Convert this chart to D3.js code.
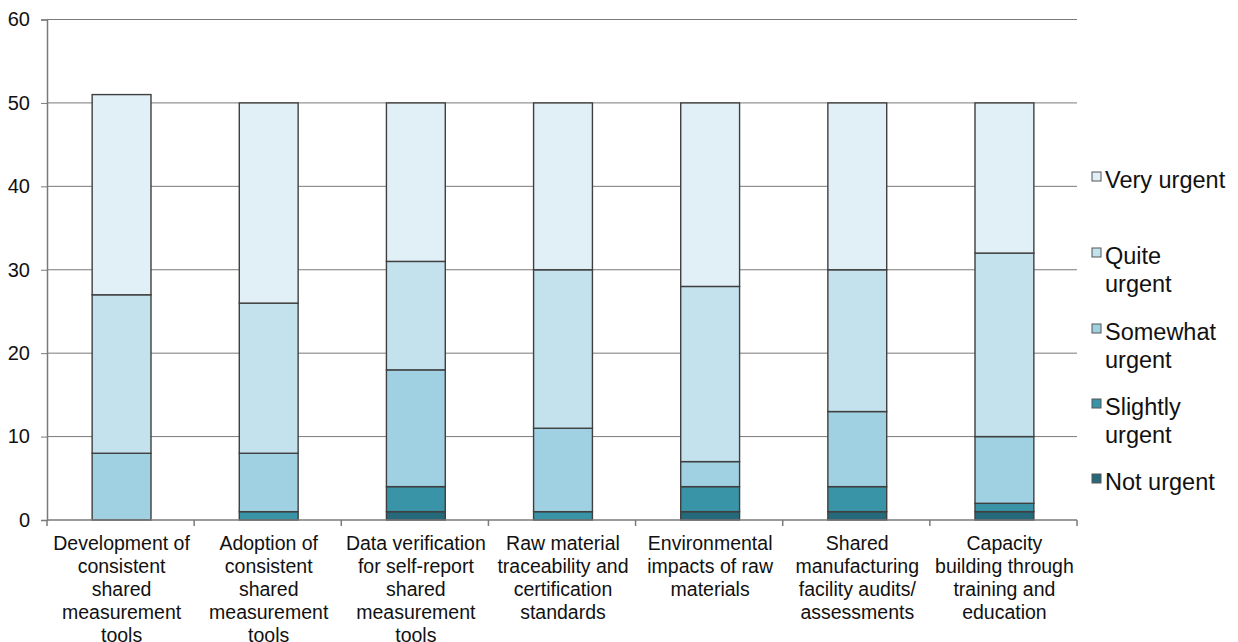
<!DOCTYPE html>
<html>
<head>
<meta charset="utf-8">
<script src="https://cdn.jsdelivr.net/npm/d3@7"></script>
<style>
  html, body { margin: 0; padding: 0; background: #fff; }
  svg { display: block; font-family: "Liberation Sans", Arial, Helvetica, sans-serif; }
</style>
</head>
<body>
<svg id="chart" width="1238" height="642"></svg>
<script>
// Survey responses: how urgent each collaboration area is
const categories = [
  ["Development of", "consistent", "shared", "measurement", "tools"],
  ["Adoption of", "consistent", "shared", "measurement", "tools"],
  ["Data verification", "for self-report", "shared", "measurement", "tools"],
  ["Raw material", "traceability and", "certification", "standards"],
  ["Environmental", "impacts of raw", "materials"],
  ["Shared", "manufacturing", "facility audits/", "assessments"],
  ["Capacity", "building through", "training and", "education"]
];
const seriesNames = ["Not urgent", "Slightly urgent", "Somewhat urgent", "Quite urgent", "Very urgent"];
const notUrgent      = [0, 0, 1, 0, 1, 1, 1];
const slightlyUrgent = [0, 1, 3, 1, 3, 3, 1];
const somewhatUrgent = [8, 7, 14, 10, 3, 9, 8];
const quiteUrgent    = [19, 18, 13, 19, 21, 17, 22];
const veryUrgent     = [24, 24, 19, 20, 22, 20, 18];
const yTicks = [0, 10, 20, 30, 40, 50, 60];

const colors = ["#25697a", "#3a94a8", "#a0d1e2", "#c3e2ed", "#e1f0f6"];
const legendLines = [
  ["Very urgent"],
  ["Quite", "urgent"],
  ["Somewhat", "urgent"],
  ["Slightly", "urgent"],
  ["Not urgent"]
];

const svg = d3.select("#chart");
const plotLeft = 47, plotRight = 1077, plotTop = 19.5, plotBottom = 520;

const rows = categories.map((c, i) => ({
  key: i,
  "Not urgent": notUrgent[i],
  "Slightly urgent": slightlyUrgent[i],
  "Somewhat urgent": somewhatUrgent[i],
  "Quite urgent": quiteUrgent[i],
  "Very urgent": veryUrgent[i]
}));
const stacked = d3.stack().keys(seriesNames)(rows);

const x = d3.scaleBand().domain(d3.range(categories.length)).range([plotLeft, plotRight]).padding(0);
const y = d3.scaleLinear().domain([0, 60]).range([plotBottom, plotTop]);
const barW = x.bandwidth() * 0.4;

// gridlines
svg.append("g")
  .selectAll("line")
  .data(yTicks.filter(t => t > 0))
  .join("line")
  .attr("x1", plotLeft).attr("x2", plotRight)
  .attr("y1", d => y(d)).attr("y2", d => y(d))
  .attr("stroke", "#7a7a7a").attr("stroke-width", 1);

// y axis
const yAxis = svg.append("g")
  .attr("transform", `translate(${plotLeft},0)`)
  .call(d3.axisLeft(y).tickValues(yTicks).tickSize(6).tickPadding(11));
yAxis.select(".domain").attr("stroke", "#7a7a7a").attr("stroke-width", 1.5);
yAxis.selectAll(".tick line").attr("stroke", "#7a7a7a");
yAxis.selectAll(".tick text")
  .attr("font-size", 20).attr("fill", "#111")
  .attr("font-family", "Liberation Sans, Arial, sans-serif");

// bars
svg.append("g")
  .selectAll("g")
  .data(stacked)
  .join("g")
  .attr("fill", (d, i) => colors[i])
  .selectAll("rect")
  .data(d => d.filter(s => s[1] - s[0] > 0))
  .join("rect")
  .attr("x", d => x(d.data.key) + (x.bandwidth() - barW) / 2 + 1)
  .attr("width", barW)
  .attr("y", d => y(d[1]))
  .attr("height", d => y(d[0]) - y(d[1]))
  .attr("stroke", "#3f3f3f")
  .attr("stroke-width", 1.4);

// x axis with ticks on band boundaries
const xb = svg.append("g");
xb.append("line")
  .attr("x1", plotLeft).attr("x2", plotRight)
  .attr("y1", plotBottom).attr("y2", plotBottom)
  .attr("stroke", "#7a7a7a").attr("stroke-width", 1.5);
const boundaries = d3.range(categories.length + 1).map(i => plotLeft + i * x.step());
xb.selectAll("line.tk")
  .data(boundaries)
  .join("line")
  .attr("class", "tk")
  .attr("x1", d => d).attr("x2", d => d)
  .attr("y1", plotBottom).attr("y2", plotBottom + 6)
  .attr("stroke", "#7a7a7a").attr("stroke-width", 1.5);

// category labels
const lab = svg.append("g")
  .selectAll("text")
  .data(categories)
  .join("text")
  .attr("text-anchor", "middle")
  .attr("font-size", 19.5)
  .attr("fill", "#111")
  .attr("x", (d, i) => x(i) + x.bandwidth() / 2 + 1)
  .attr("y", 550);
lab.selectAll("tspan")
  .data(d => d)
  .join("tspan")
  .attr("x", function () { return d3.select(this.parentNode).attr("x"); })
  .attr("dy", (d, i) => i === 0 ? 0 : 23)
  .text(d => d);

// legend
const legendBase = [188, 264, 340, 415, 490];
const lg = svg.append("g")
  .selectAll("g")
  .data(legendLines)
  .join("g")
  .attr("transform", (d, i) => `translate(1092,${legendBase[i]})`);
lg.append("rect")
  .attr("x", 0).attr("y", -16).attr("width", 9).attr("height", 9)
  .attr("fill", (d, i) => colors[colors.length - 1 - i])
  .attr("stroke", "#555").attr("stroke-width", 1);
lg.append("text")
  .attr("x", 13).attr("y", 0)
  .attr("font-size", 23.5).attr("fill", "#111")
  .selectAll("tspan")
  .data(d => d)
  .join("tspan")
  .attr("x", 13)
  .attr("dy", (d, i) => i === 0 ? 0 : 27.5)
  .text(d => d);
</script>
</body>
</html>
